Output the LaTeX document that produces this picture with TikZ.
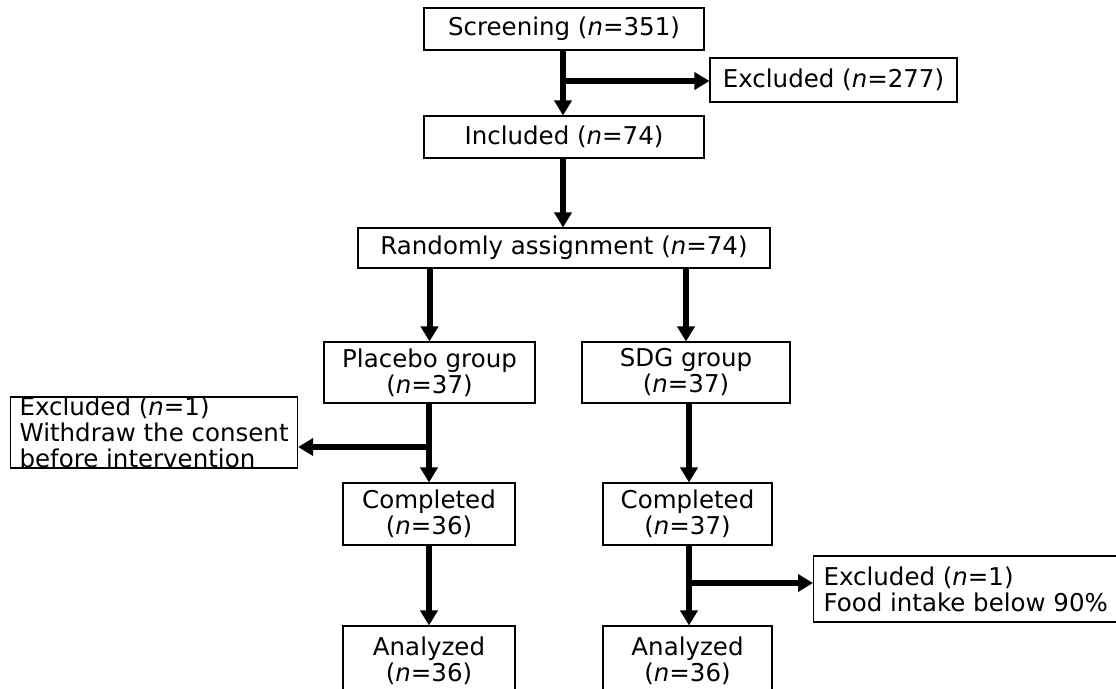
\documentclass[tikz,border=0pt]{standalone}
\usepackage{fontspec}
\setmainfont{DejaVu Sans}
\usetikzlibrary{arrows.meta}
\begin{document}
\begin{tikzpicture}[x=1pt,y=-1pt,
  box/.style={draw, line width=1.1pt, inner sep=0pt, align=center,
    font=\fontsize{24.5}{26}\selectfont},
  lbox/.style={draw, line width=1.1pt, inner xsep=9pt, inner ysep=0pt, align=left,
    font=\fontsize{24.5}{26}\selectfont},
  arr/.style={line width=6pt, -{Triangle[length=15pt,width=17pt]}}]
\useasboundingbox (0,0) rectangle (1116,688);
\node[box, minimum width=280pt, minimum height=42pt] (scr) at (564,29) {Screening (\textit{n}=351)};
\node[box, minimum width=247pt, minimum height=44pt] (exa) at (833.5,80) {Excluded (\textit{n}=277)};
\node[box, minimum width=280pt, minimum height=42pt] (inc) at (564,137) {Included (\textit{n}=74)};
\node[box, minimum width=412pt, minimum height=40pt] (rnd) at (564,248) {Randomly assignment (\textit{n}=74)};
\node[box, minimum width=211pt, minimum height=61pt] (plc) at (429.5,372.5) {Placebo group\\(\textit{n}=37)};
\node[box, minimum width=208pt, minimum height=61pt] (sdg) at (686,372.5) {SDG group\\(\textit{n}=37)};
\node[lbox, minimum height=69pt, anchor=west] (exb) at (10,432.5) {Excluded (\textit{n}=1)\\Withdraw the consent\\before intervention};
\node[box, minimum width=172pt, minimum height=62pt] (cpa) at (429,514) {Completed\\(\textit{n}=36)};
\node[box, minimum width=169pt, minimum height=62pt] (cpb) at (687.5,514) {Completed\\(\textit{n}=37)};
\node[lbox, minimum height=66pt, anchor=west, inner xsep=10pt] (exc) at (813,589) {Excluded (\textit{n}=1)\\Food intake below 90\%};
\node[box, minimum width=172pt, minimum height=70pt] (ana) at (429,661) {Analyzed\\(\textit{n}=36)};
\node[box, minimum width=169pt, minimum height=70pt] (anb) at (687.5,661) {Analyzed\\(\textit{n}=36)};
\coordinate (b1) at (563,81);
\coordinate (b2) at (429,447);
\coordinate (b3) at (689,583);
\draw[arr] (scr.south -| b1) -- (inc.north -| b1);
\draw[arr] (b1) -- (exa.west |- b1);
\draw[arr] (inc.south -| b1) -- (rnd.north -| b1);
\draw[arr] (rnd.south -| plc.north) -- (plc.north);
\draw[arr] (rnd.south -| sdg.north) -- (sdg.north);
\draw[arr] (plc.south -| cpa.north) -- (cpa.north);
\draw[arr] (b2) -- (b2 -| exb.east);
\draw[arr] (sdg.south -| b3) -- (cpb.north -| b3);
\draw[arr] (cpa.south) -- (ana.north);
\draw[arr] (cpb.south -| b3) -- (anb.north -| b3);
\draw[arr] (b3) -- (b3 -| exc.west);
\end{tikzpicture}
\end{document}
